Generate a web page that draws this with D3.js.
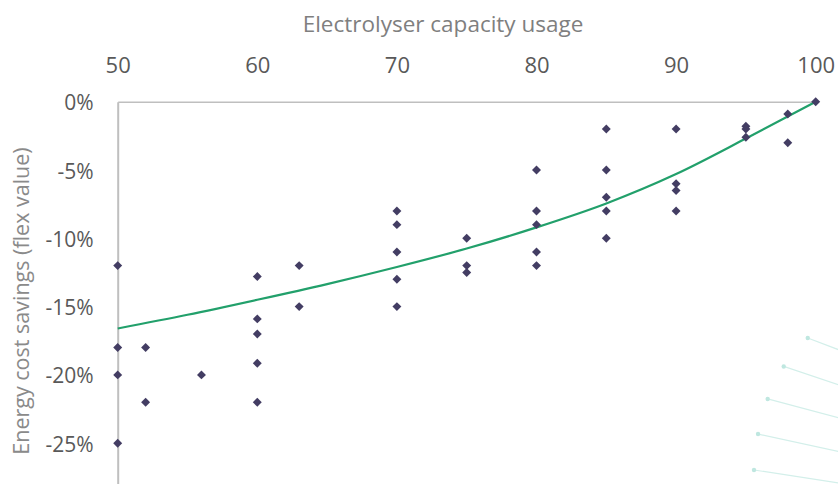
<!DOCTYPE html>
<html>
<head>
<meta charset="utf-8">
<script src="https://cdn.jsdelivr.net/npm/d3@7"></script>
<style>
  html, body { margin: 0; padding: 0; background: #fff; }
  svg { display: block; }
</style>
</head>
<body>
<svg id="chart" width="838" height="484"></svg>
<script>
// ---- data ----
const capacity = [50,50,50,50, 52,52, 56, 60,60,60,60,60, 63,63,
  70,70,70,70,70, 75,75,75, 80,80,80,80,80, 85,85,85,85,85,
  90,90,90,90, 95,95,95, 98,98, 100];
const savings = [-12,-18,-20,-25, -18,-22, -20, -12.8,-15.9,-17,-19.15,-22, -12,-15,
  -8,-9,-11,-13,-15, -10,-12,-12.5, -5,-8,-9,-11,-12, -2,-5,-7,-8,-10,
  -2,-6,-6.5,-8, -1.8,-2,-2.6, -0.9,-3, 0];
const trendX = [50,55,60,65,70,75,80,85,90,95,100];
const trendY = [-16.6,-15.6,-14.5,-13.35,-12.1,-10.75,-9.2,-7.45,-5.3,-2.7,0];
const xTicks = [50,60,70,80,90,100];
const yTicks = [0,-5,-10,-15,-20,-25];
// decorative teal rays (data units): start x,y -> end x,y
const decorX0 = [99.43,97.71,96.56,95.87,95.58];
const decorY0 = [-17.30,-19.38,-21.76,-24.33,-26.96];
const decorX1 = [101.8,101.8,101.8,101.8,101.8];
const decorY1 = [-18.22,-20.78,-23.19,-25.64,-27.93];

const xTitle = "Electrolyser capacity usage";
const yTitle = "Energy cost savings (flex value)";

// ---- drawing ----
const svg = d3.select("#chart");
const x = d3.scaleLinear().domain([50,100]).range([117.7,815.7]);
const y = d3.scaleLinear().domain([0,-30]).range([101.7,511.5]);

const font = "'Open Sans', sans-serif";

// decorative rays
const dec = svg.append("g");
decorX0.forEach((d,i) => {
  dec.append("line")
    .attr("x1", x(d)).attr("y1", y(decorY0[i]))
    .attr("x2", x(decorX1[i])).attr("y2", y(decorY1[i]))
    .attr("stroke", "#d3efea").attr("stroke-width", 1.2);
  dec.append("circle").attr("cx", x(d)).attr("cy", y(decorY0[i]))
    .attr("r", 2.2).attr("fill", "#bfe7e0");
});

// top x axis
const xAxis = d3.axisTop(x).tickValues(xTicks).tickSize(0).tickPadding(0).tickFormat(d3.format("d"));
const gx = svg.append("g").attr("transform", `translate(0,${y(0)})`).call(xAxis);
gx.select(".domain").attr("stroke", "#bfbfbf").attr("stroke-width", 1.5);
gx.selectAll("text").attr("y", -38).attr("dy", null)
  .attr("font-family", font).attr("font-size", 22).attr("fill", "#595959")
  .attr("dominant-baseline", "central");

// left y axis
const yAxis = d3.axisLeft(y).tickValues(yTicks).tickSize(0).tickPadding(0).tickFormat(d => d + "%");
const gy = svg.append("g").attr("transform", `translate(${x(50)},0)`).call(yAxis);
gy.select(".domain").attr("stroke", "#bfbfbf").attr("stroke-width", 2);
gy.selectAll("text").attr("x", -24).attr("dy", null)
  .attr("font-family", font).attr("font-size", 21).attr("fill", "#595959")
  .attr("dominant-baseline", "central");

// trend line
const line = d3.line().x(d => x(d[0])).y(d => y(d[1])).curve(d3.curveMonotoneX);
svg.append("path")
  .datum(trendX.map((d,i) => [d, trendY[i]]))
  .attr("d", line).attr("fill", "none")
  .attr("stroke", "#22a06b").attr("stroke-width", 2.2);

// points (diamonds)
const diamond = d3.symbol().type(d3.symbolSquare).size(40);
svg.append("g").selectAll("path")
  .data(capacity.map((d,i) => [d, savings[i]]))
  .join("path")
  .attr("d", diamond)
  .attr("transform", d => `translate(${x(d[0])},${y(d[1])}) rotate(45)`)
  .attr("fill", "#433d63");

// titles
svg.append("text").text(xTitle)
  .attr("x", 443).attr("y", 23)
  .attr("text-anchor", "middle").attr("dominant-baseline", "central")
  .attr("font-family", font).attr("font-size", 22.5).attr("fill", "#7f7f7f");
svg.append("text").text(yTitle)
  .attr("transform", "translate(20,301) rotate(-90)")
  .attr("text-anchor", "middle").attr("dominant-baseline", "central")
  .attr("font-family", font).attr("font-size", 21.5).attr("fill", "#8a8a8a");
</script>
</body>
</html>
